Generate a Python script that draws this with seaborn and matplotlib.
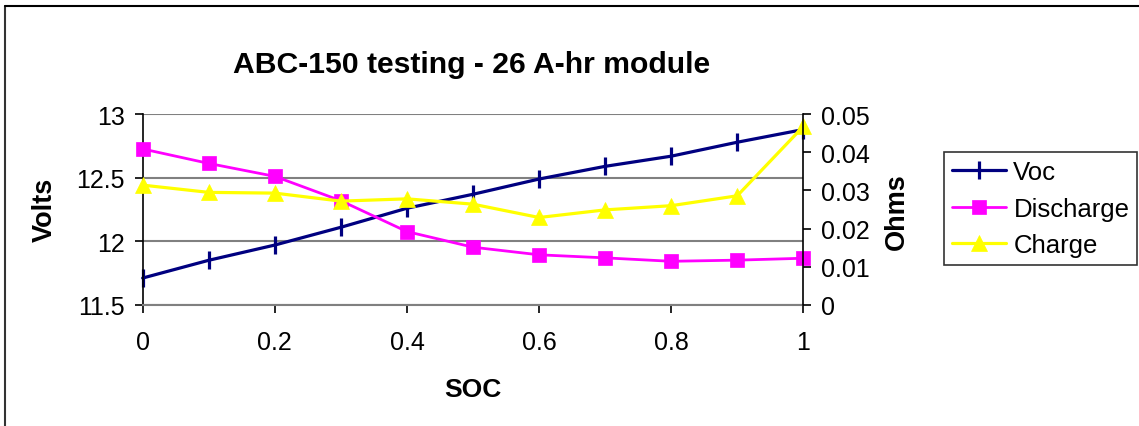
import matplotlib
matplotlib.use("Agg")
import matplotlib.pyplot as plt
import seaborn as sns
import pandas as pd
from matplotlib.lines import Line2D

# ---- data ----
soc = [0.0, 0.1, 0.2, 0.3, 0.4, 0.5, 0.6, 0.7, 0.8, 0.9, 1.0]
voc = [11.71, 11.85, 11.97, 12.11, 12.26, 12.37, 12.49, 12.59, 12.67, 12.78, 12.88]
discharge = [0.0409, 0.0371, 0.0337, 0.0273, 0.0192, 0.0151, 0.0131, 0.0123, 0.0114, 0.0117, 0.0122]
charge = [0.0314, 0.0295, 0.0293, 0.0272, 0.0278, 0.0264, 0.0229, 0.0249, 0.0260, 0.0286, 0.0468]
x_ticks = [0, 0.2, 0.4, 0.6, 0.8, 1.0]
x_labels = ["0", "0.2", "0.4", "0.6", "0.8", "1"]
volt_ticks = [11.5, 12, 12.5, 13]
volt_labels = ["11.5", "12", "12.5", "13"]
ohm_ticks = [0, 0.01, 0.02, 0.03, 0.04, 0.05]
ohm_labels = ["0", "0.01", "0.02", "0.03", "0.04", "0.05"]

df = pd.DataFrame({"SOC": soc, "Voc": voc, "Discharge": discharge, "Charge": charge})

sns.set_style("white")
plt.rcParams["font.family"] = ["Liberation Sans", "DejaVu Sans"]
plt.rcParams["text.color"] = "black"
plt.rcParams["axes.labelcolor"] = "black"
plt.rcParams["xtick.color"] = "black"
plt.rcParams["ytick.color"] = "black"

W, H = 1139, 427
fig = plt.figure(figsize=(W / 100, H / 100), dpi=100)
ax1 = fig.add_axes([142.7 / W, 1 - 305.7 / H, (803.3 - 142.7) / W, (305.7 - 115.3) / H])
ax2 = ax1.twinx()

navy, mag, yel = "#000080", "#FF00FF", "#FFFF00"

sns.lineplot(data=df, x="SOC", y="Voc", ax=ax1, color=navy, linewidth=2.3,
             marker="|", markersize=13, markeredgecolor=navy, markeredgewidth=2.3,
             label="Voc", legend=False, clip_on=False)
sns.lineplot(data=df, x="SOC", y="Discharge", ax=ax2, color=mag, linewidth=2.0,
             marker="s", markersize=10.5, markeredgecolor=mag, markeredgewidth=0.5,
             label="Discharge", legend=False, clip_on=False)
sns.lineplot(data=df, x="SOC", y="Charge", ax=ax2, color=yel, linewidth=2.3,
             marker="^", markersize=12, markeredgecolor=yel, markeredgewidth=0.5,
             label="Charge", legend=False, clip_on=False)

ax1.set_xlim(0, 1)
ax1.set_ylim(11.5, 13)
ax2.set_ylim(0, 0.05)
ax1.set_xticks(x_ticks)
ax1.set_xticklabels(x_labels)
ax1.set_yticks(volt_ticks)
ax1.set_yticklabels(volt_labels)
ax2.set_yticks(ohm_ticks)
ax2.set_yticklabels(ohm_labels)

ax1.yaxis.grid(True, color="#808080", linewidth=1.5)
ax1.xaxis.grid(False)
ax2.grid(False)
ax1.set_axisbelow(True)

for ax in (ax1, ax2):
    for s in ax.spines.values():
        s.set_visible(False)
ax1.spines["left"].set_visible(True)
ax1.spines["left"].set_color("black")
ax1.spines["left"].set_linewidth(1.2)
ax1.spines["bottom"].set_visible(True)
ax1.spines["bottom"].set_color("#808080")
ax1.spines["bottom"].set_linewidth(1.5)
ax2.spines["right"].set_visible(True)
ax2.spines["right"].set_color("black")
ax2.spines["right"].set_linewidth(1.2)

tick_fs = 18
ax1.tick_params(axis="both", which="major", direction="out", length=6, width=1.2,
                labelsize=tick_fs, colors="black", left=True, bottom=True, pad=7)
ax1.tick_params(axis="x", pad=12)
ax2.tick_params(axis="y", direction="out", length=6, width=1.2, labelsize=tick_fs,
                colors="black", right=True, pad=7)

ax1.set_xlabel("")
ax1.set_ylabel("")
ax2.set_ylabel("")

fig.text(45 / W, 1 - 210 / H, "Volts", rotation=90, ha="center", va="center",
         fontsize=19.5, fontweight="bold", color="black")
fig.text(897 / W, 1 - 212 / H, "Ohms", rotation=90, ha="center", va="center",
         fontsize=19.5, fontweight="bold", color="black")
fig.text(473 / W, 1 - 390 / H, "SOC", ha="center", va="center",
         fontsize=19, fontweight="bold", color="black")
fig.text(472 / W, 1 - 65 / H, "ABC-150 testing - 26 A-hr module", ha="center",
         va="center", fontsize=21.7, fontweight="bold", color="black")

h1, l1 = ax1.get_legend_handles_labels()
h2, l2 = ax2.get_legend_handles_labels()
leg = fig.legend(h1 + h2, l1 + l2, loc="upper left",
                 bbox_to_anchor=(944 / W, 1 - 153 / H), borderaxespad=0,
                 fontsize=18.5, frameon=True, fancybox=False, edgecolor="black",
                 handlelength=2.1, handletextpad=0.3, labelspacing=0.5,
                 borderpad=0.3)
leg.get_frame().set_linewidth(1.2)
for t in leg.get_texts():
    t.set_color("black")

# outer chart border (left and top edges visible)
fig.add_artist(Line2D([5 / W, 5 / W], [0, 1 - 6.5 / H], transform=fig.transFigure,
                      color="#333333", linewidth=1.5))
fig.add_artist(Line2D([5 / W, 1], [1 - 6.5 / H, 1 - 6.5 / H], transform=fig.transFigure,
                      color="#000000", linewidth=1.5))

fig.savefig("out.png", dpi=100, facecolor="white")
